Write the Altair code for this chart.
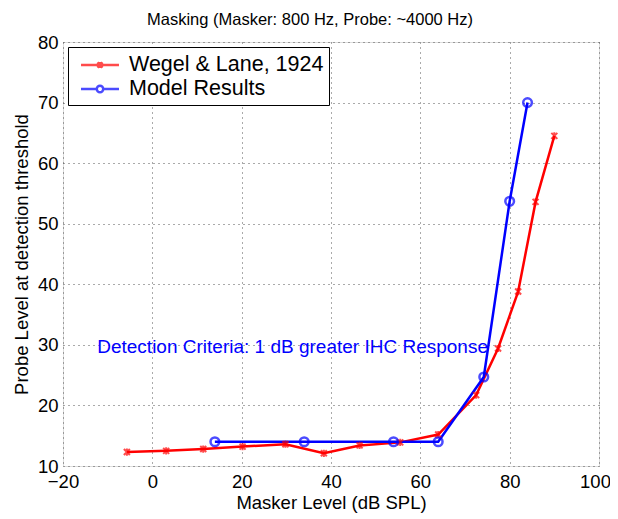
import altair as alt
import pandas as pd

wegel_x = [-5.7, 3.1, 11.4, 20.2, 29.8, 38.4, 46.4, 55.5, 64.0, 72.5, 77.4, 81.9, 85.8, 90.0]
wegel_y = [12.3, 12.5, 12.8, 13.2, 13.6, 12.1, 13.4, 13.9, 15.2, 21.7, 29.4, 38.8, 53.6, 64.5]
model_x = [14, 34, 54, 64, 74.2, 80.0, 84.0]
model_y = [14.0, 14.0, 14.0, 14.0, 24.7, 53.7, 70.0]

series_names = ["Wegel & Lane, 1924", "Model Results"]
series_colors = ["#ff0000", "#0000ff"]

x_ticks = [-20, 0, 20, 40, 60, 80, 100]
y_ticks = [10, 20, 30, 40, 50, 60, 70, 80]

note_text = ["Detection Criteria: 1 dB greater IHC Response"]
note_x = [31.4]
note_y = [29.6]

FONT = "Liberation Sans"

df_w = pd.DataFrame({"x": wegel_x, "y": wegel_y, "s": series_names[0], "o": range(len(wegel_x))})
df_m = pd.DataFrame({"x": model_x, "y": model_y, "s": series_names[1], "o": range(len(model_x))})
df = pd.concat([df_w, df_m], ignore_index=True)
df_note = pd.DataFrame({"x": note_x, "y": note_y, "t": note_text})

xscale = alt.Scale(domain=[-20, 100], nice=False, zero=False)
yscale = alt.Scale(domain=[10, 80], nice=False, zero=False)
common = dict(grid=True, gridDash=[1, 4], gridColor="#555555", gridOpacity=1, ticks=False, domain=False,
              labelFontSize=18.5, titleFontSize=18.5, titleFontWeight="normal", labelFont=FONT,
              titleFont=FONT, labelColor="black", titleColor="black", labelFlush=False,
              labelOverlap=False)
xaxis = alt.Axis(values=x_ticks, title="Masker Level (dB SPL)", labelPadding=6, titlePadding=3,
                 labelOffset=alt.ExprRef("datum.value == 100 ? -4 : 0"), **common)
yaxis = alt.Axis(values=y_ticks, title="Probe Level at detection threshold", labelPadding=5,
                 titlePadding=6, **common)

line_w = alt.Chart(df_w).mark_line(strokeWidth=2.5, color=series_colors[0]).encode(
    x=alt.X("x:Q", scale=xscale, axis=xaxis),
    y=alt.Y("y:Q", scale=yscale, axis=yaxis),
    order="o:Q",
)
line_m = alt.Chart(df_m).mark_line(strokeWidth=2.5, color=series_colors[1]).encode(
    x=alt.X("x:Q", scale=xscale), y=alt.Y("y:Q", scale=yscale), order="o:Q",
)

# legend symbols: line with marker (wider than the nominal symbol box)
leg_red = "M-1.65,0L1.65,0M-0.22,-0.22L0.22,0.22M-0.22,0.22L0.22,-0.22M0,-0.26L0,0.26"
leg_blue = ("M-1.65,0L-0.28,0M0.28,0L1.65,0M-0.28,0A0.28,0.28,0,1,1,0.28,0"
            "A0.28,0.28,0,1,1,-0.28,0")

legend_props = dict(title=None, orient="top-left", symbolStrokeWidth=2.5,
                    symbolSize=529, labelFontSize=21.5, labelFont=FONT,
                    labelColor="black", strokeColor="black", fillColor="white",
                    padding=5, offset=5, rowPadding=0, labelOffset=16,
                    symbolOffset=14, labelLimit=400, symbolFillColor="white")

legend_layer = alt.Chart(df).transform_filter("datum.x > 1000").mark_point(
    filled=False, strokeWidth=2.5, size=529).encode(
    x=alt.X("x:Q", scale=xscale), y=alt.Y("y:Q", scale=yscale),
    color=alt.Color("s:N", scale=alt.Scale(domain=series_names, range=series_colors),
                    legend=alt.Legend(**legend_props)),
    shape=alt.Shape("s:N", scale=alt.Scale(domain=series_names, range=[leg_red, leg_blue]),
                    legend=alt.Legend(**legend_props)),
)

xpath = "M-1,-1L1,1M-1,1L1,-1M0,-1.2L0,1.2"
pts_w = alt.Chart(df_w).mark_point(shape=xpath, filled=False, color="#ff0000", size=36, strokeWidth=2).encode(
    x=alt.X("x:Q", scale=xscale), y=alt.Y("y:Q", scale=yscale))
pts_m = alt.Chart(df_m).mark_point(shape="circle", filled=False, color="#0000ff", size=75, strokeWidth=2.5).encode(
    x=alt.X("x:Q", scale=xscale), y=alt.Y("y:Q", scale=yscale))

note = alt.Chart(df_note).mark_text(color="#0000ff", fontSize=19, font=FONT).encode(
    x=alt.X("x:Q", scale=xscale), y=alt.Y("y:Q", scale=yscale), text="t:N")

chart = alt.layer(line_w, line_m, pts_w, pts_m, note, legend_layer).properties(
    width=536, height=424,
    title=alt.TitleParams("Masking (Masker: 800 Hz, Probe: ~4000 Hz)", fontSize=16.5, fontWeight="normal",
                          font=FONT, color="black", offset=5, dx=-21),
    autosize=alt.AutoSizeParams(type="none"),
    padding={"left": 55, "top": 34, "right": 11, "bottom": 50},
).configure_view(stroke="black", strokeWidth=1.5).configure(background="white")

chart.save("out.html", embed_options={"renderer": "svg", "actions": False})
